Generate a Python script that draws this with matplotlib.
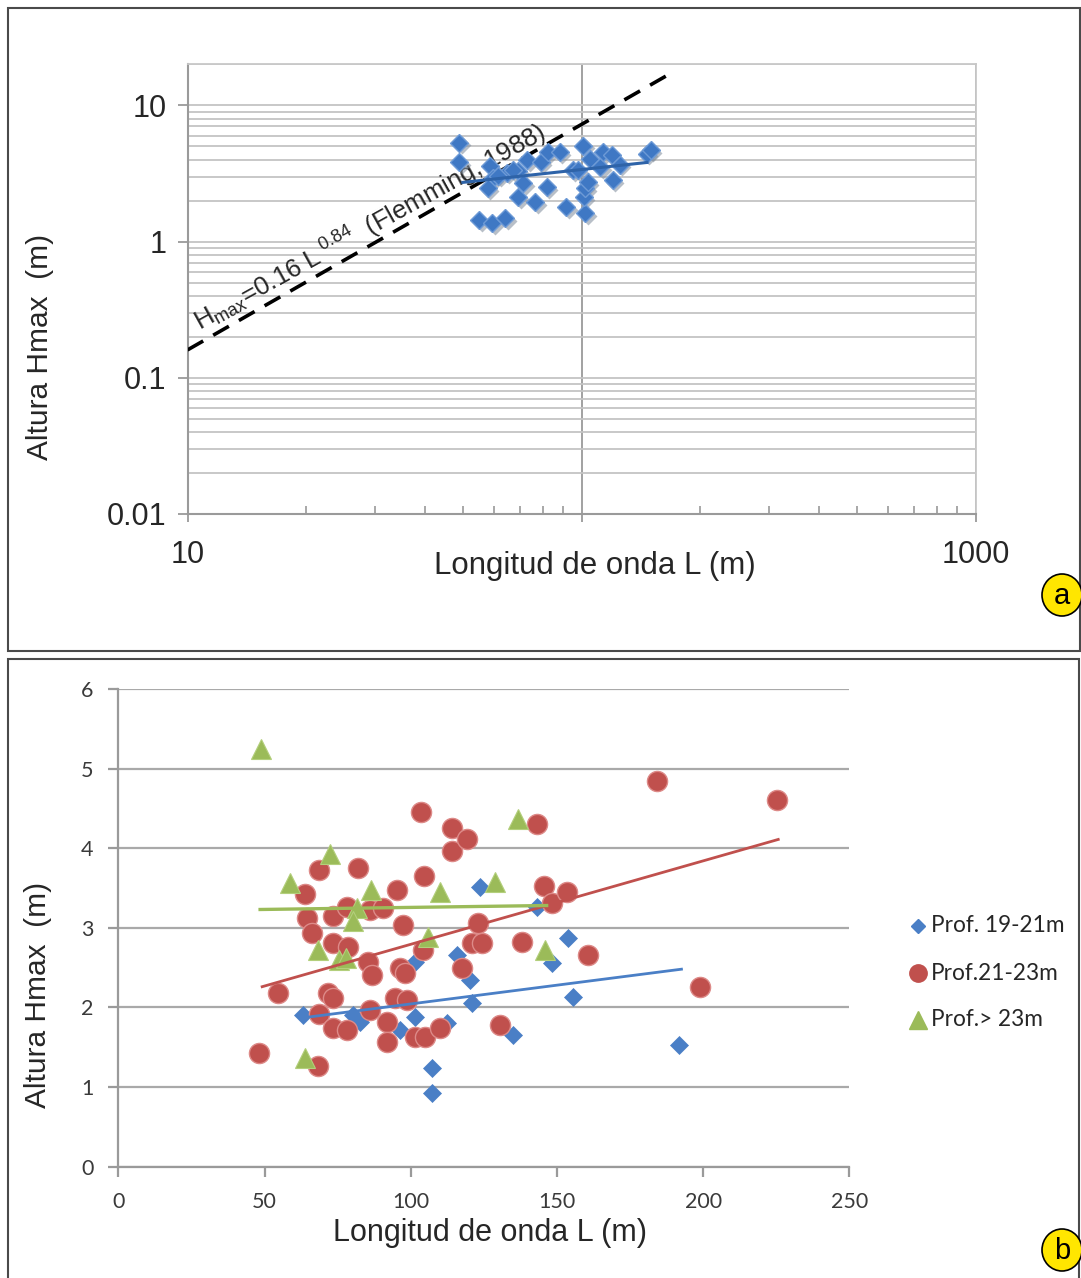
import numpy as np
import matplotlib
matplotlib.use('Agg')
import matplotlib.pyplot as plt
from matplotlib.patches import Rectangle, Ellipse
from matplotlib.lines import Line2D
from matplotlib import transforms
from matplotlib.ticker import FixedLocator, NullFormatter, FixedFormatter

plt.rcParams['font.family'] = ['Liberation Sans', 'DejaVu Sans']
plt.rcParams['mathtext.fontset'] = 'custom'
plt.rcParams['mathtext.rm'] = 'Liberation Sans'
plt.rcParams['mathtext.it'] = 'Liberation Sans'

# ---------------- Panel a data (log-log) ----------------
a_L = [48.9, 48.9, 58.6, 59.6, 57.9, 55.0, 59.3, 64.0, 64.7, 69.0, 69.0, 71.1,
       72.8, 76.3, 78.9, 81.7, 82.2, 88.1, 91.4, 95.1, 100.9, 102.1, 101.4, 102.1,
       103.8, 105.1, 111.5, 113.5, 119.5, 120.2, 125.2, 146.6, 150.0, 97.9, 67.0, 61.4]
a_H = [5.33, 3.81, 3.56, 2.91, 2.46, 1.43, 1.36, 1.48, 3.21, 3.27, 2.11, 2.67,
       3.94, 1.94, 3.81, 2.50, 4.51, 4.51, 1.78, 3.33, 5.07, 1.61, 2.11, 2.46,
       2.72, 4.07, 3.50, 4.51, 4.29, 2.81, 3.68, 4.43, 4.67, 3.33, 3.33, 3.05]
a_trend_L = [50.0, 146.6]
a_trend_H = [2.72, 3.81]
flemming_L = [10, 172]
flemming_H = [0.16, 17.8]
a_yticks = [0.01, 0.1, 1, 10]
a_yticklabels = ['0.01', '0.1', '1', '10']
a_xticks = [10, 100, 1000]
a_xticklabels = ['10', '', '1000']

# ---------------- Panel b data ----------------
b1_L = [63.2, 80.3, 82.7, 96.3, 101.4, 101.4, 107.2, 107.2, 112.4, 115.8, 120.2,
        120.9, 123.6, 134.9, 143.1, 148.2, 153.7, 155.4, 191.9]
b1_H = [1.90, 1.90, 1.82, 1.72, 1.88, 2.57, 1.24, 0.93, 1.80, 2.66, 2.34,
        2.06, 3.51, 1.65, 3.26, 2.56, 2.87, 2.13, 1.53]
b1_trend_L = [63.2, 192.6]
b1_trend_H = [1.87, 2.48]

b2_L = [48.2, 54.6, 63.9, 64.5, 66.3, 68.3, 68.6, 68.6, 71.7, 73.4, 73.4, 73.4,
        73.4, 78.2, 78.2, 78.6, 82.0, 85.4, 86.7, 86.1, 86.1, 90.5, 91.9, 91.9,
        95.3, 96.3, 98.0, 94.6, 98.7, 97.3, 101.4, 104.9, 110.0, 103.5, 104.5, 104.2,
        114.1, 114.1, 119.2, 117.5, 120.9, 124.3, 123.0, 130.5, 138.0, 143.1, 145.5,
        148.2, 153.3, 160.5, 184.1, 198.8, 225.4]
b2_H = [1.43, 2.18, 3.43, 3.12, 2.93, 1.27, 1.92, 3.73, 2.18, 2.12, 3.15, 2.81,
        1.74, 1.72, 3.26, 2.76, 3.75, 2.57, 2.41, 3.22, 1.97, 3.25, 1.82, 1.57,
        3.47, 2.49, 2.43, 2.12, 2.09, 3.03, 1.63, 1.63, 1.74, 4.45, 3.65, 2.72,
        4.26, 3.97, 4.12, 2.49, 2.81, 2.81, 3.06, 1.78, 2.82, 4.31, 3.53,
        3.31, 3.45, 2.66, 4.85, 2.26, 4.60]
b2_trend_L = [49.2, 225.7]
b2_trend_H = [2.26, 4.11]

b3_L = [48.8, 58.7, 72.4, 86.4, 81.6, 80.3, 68.3, 75.5, 77.8, 63.9, 110.0, 105.9,
        128.8, 136.6, 145.8]
b3_H = [5.25, 3.56, 3.93, 3.47, 3.25, 3.08, 2.72, 2.60, 2.62, 1.37, 3.45, 2.88,
        3.57, 4.37, 2.72]
b3_trend_L = [48.5, 146.5]
b3_trend_H = [3.23, 3.28]

b_labels = ['Prof. 19-21m', 'Prof.21-23m', 'Prof.> 23m']
b_xticks = [0, 50, 100, 150, 200, 250]
b_yticks = [0, 1, 2, 3, 4, 5, 6]

# ---------------- Figure ----------------
W, H = 1081, 1278
fig = plt.figure(figsize=(W / 100, H / 100), dpi=100)

def fx(px):
    return px / W

def fy(py):
    return 1 - py / H

BLUE_A = '#3f78c4'
RED = '#c0504d'
GREEN = '#9bbb59'
GRID = '#c4c4c4'
TXT = '#262626'

# ---- panel frames ----
fig.add_artist(Rectangle((fx(8), fy(651)), fx(1080) - fx(8), fy(8) - fy(651),
                         transform=fig.transFigure, fill=False, ec='#4a4a4a', lw=1.5))
fig.add_artist(Rectangle((fx(8), fy(1290)), fx(1079) - fx(8), fy(659) - fy(1290),
                         transform=fig.transFigure, fill=False, ec='#4a4a4a', lw=1.5))

# ---------------- Panel a ----------------
ax1 = fig.add_axes([fx(187.5), fy(513.9), fx(975.5) - fx(187.5), fy(64.4) - fy(513.9)])
ax1.set_xscale('log')
ax1.set_yscale('log')
ax1.set_xlim(10, 1000)
ax1.set_ylim(0.01, 20)

ax1.yaxis.set_major_locator(FixedLocator(a_yticks))
ax1.yaxis.set_major_formatter(FixedFormatter(a_yticklabels))
ymin_ticks = [m * 10.0 ** e for e in range(-2, 2) for m in range(2, 10) if m * 10.0 ** e <= 20]
ax1.yaxis.set_minor_locator(FixedLocator(ymin_ticks))
ax1.yaxis.set_minor_formatter(NullFormatter())
ax1.xaxis.set_major_locator(FixedLocator(a_xticks))
ax1.xaxis.set_major_formatter(FixedFormatter(a_xticklabels))
xmin_ticks = [m * 10.0 ** e for e in range(1, 3) for m in range(2, 10)]
ax1.xaxis.set_minor_locator(FixedLocator(xmin_ticks))
ax1.xaxis.set_minor_formatter(NullFormatter())

ax1.grid(True, axis='y', which='both', color=GRID, lw=1.3, zorder=0)
ax1.grid(True, axis='x', which='major', color='#9a9a9a', lw=1.3, zorder=0)
ax1.set_axisbelow(True)
for s in ['top', 'right']:
    ax1.spines[s].set_color('#c8c8c8')
    ax1.spines[s].set_linewidth(1.3)
for s in ['left', 'bottom']:
    ax1.spines[s].set_color('#9a9a9a')
    ax1.spines[s].set_linewidth(1.5)
ax1.tick_params(axis='y', which='major', direction='out', length=7, width=1.3,
                color='#9a9a9a', labelsize=22, labelcolor=TXT, pad=8)
ax1.tick_params(axis='y', which='minor', length=0)
ax1.tick_params(axis='x', which='major', direction='out', length=6, width=1.3,
                color='#9a9a9a', labelsize=22, labelcolor=TXT, pad=13)
ax1.tick_params(axis='x', which='minor', direction='in', length=6, width=1.2,
                color='#9a9a9a')

# Flemming line
ax1.plot(flemming_L, flemming_H, color='black', lw=2.6, dashes=(5, 3.2), zorder=3,
         solid_capstyle='butt', dash_capstyle='butt')
ax1.text(29.0, 1.26, r'H$_{\mathrm{max}}$=0.16 L$^{\ 0.84}$  (Flemming, 1988)',
         rotation=29, rotation_mode='anchor', ha='center', va='center',
         fontsize=18.5, color=TXT, zorder=4)

# diamonds with shadow
shadow = transforms.offset_copy(ax1.transData, fig=fig, x=2.5, y=-2.5, units='dots')
ax1.plot(a_L, a_H, ls='none', marker='D', ms=8.8, mfc='#7f8c9c', mec='none',
         alpha=0.55, transform=shadow, zorder=4)
ax1.plot(a_L, a_H, ls='none', marker='D', ms=8.8, mfc=BLUE_A, mec='#6d9ad6',
         mew=1.0, zorder=5)
ax1.plot(a_trend_L, a_trend_H, color='#2e63a8', lw=2.2, zorder=6)

fig.text(fx(595), fy(566), 'Longitud de onda L (m)', ha='center', va='center',
         fontsize=22.5, color=TXT)
fig.text(fx(40), fy(347), 'Altura Hmax  (m)', ha='center', va='center',
         rotation=90, fontsize=21.5, color=TXT)

# ---------------- Panel b ----------------
ax2 = fig.add_axes([fx(118.3), fy(1166.6), fx(849.3) - fx(118.3), fy(689) - fy(1166.6)])
ax2.set_xlim(0, 250)
ax2.set_ylim(0, 6)
ax2.set_xticks(b_xticks)
ax2.set_yticks(b_yticks)
ax2.grid(True, axis='y', color='#a9a9a9', lw=1.6, zorder=0)
ax2.set_axisbelow(True)
for s in ['top', 'right']:
    ax2.spines[s].set_visible(False)
for s in ['left', 'bottom']:
    ax2.spines[s].set_color('#9a9a9a')
    ax2.spines[s].set_linewidth(1.6)
ax2.tick_params(axis='both', direction='out', length=7, width=1.6, color='#9a9a9a',
                labelsize=15.5, labelcolor='#3a3a3a')
ax2.tick_params(axis='x', pad=11)
ax2.tick_params(axis='y', pad=11)
for lab in ax2.get_xticklabels() + ax2.get_yticklabels():
    lab.set_fontfamily(['Lato', 'DejaVu Sans'])

ax2.plot(b1_L, b1_H, ls='none', marker='D', ms=9.0, mfc='#4a7fc6', mec='#4a7fc6',
         mew=0.5, zorder=3)
ax2.plot(b2_L, b2_H, ls='none', marker='o', ms=14.5, mfc=RED, mec='#dd8a88',
         mew=1.0, zorder=4)
ax2.plot(b3_L, b3_H, ls='none', marker='^', ms=14.5, mfc=GREEN, mec='#b3cf7c',
         mew=0.8, zorder=5)
ax2.plot(b1_trend_L, b1_trend_H, color='#4a7fc6', lw=2.0, zorder=6)
ax2.plot(b2_trend_L, b2_trend_H, color=RED, lw=2.0, zorder=6)
ax2.plot(b3_trend_L, b3_trend_H, color=GREEN, lw=2.4, zorder=6)

fig.text(fx(490), fy(1233), 'Longitud de onda L (m)', ha='center', va='center',
         fontsize=22, color=TXT)
fig.text(fx(38), fy(995), 'Altura Hmax  (m)', ha='center', va='center',
         rotation=90, fontsize=21.5, color=TXT)

# legend (manual entries)
leg_y = [926, 973, 1020]
leg_m = [('D', 7.4, '#4a7fc6'), ('o', 12.5, RED), ('^', 13, GREEN)]
for (mk, ms, col), ly, lab in zip(leg_m, leg_y, b_labels):
    fig.add_artist(Line2D([fx(918)], [fy(ly)], transform=fig.transFigure, ls='none',
                          marker=mk, ms=ms, mfc=col, mec=col))
    fig.text(fx(931), fy(ly), lab, ha='left', va='center', fontsize=16.3,
             color='#262626', family=['Lato', 'DejaVu Sans'])

# panel tags
for (cx, cy, tag) in [(1062, 595, 'a'), (1062, 1250, 'b')]:
    fig.add_artist(Ellipse((fx(cx), fy(cy)), 40 / W, 42 / H, transform=fig.transFigure,
                           fc='#ffe600', ec='black', lw=1.2))
    fig.text(fx(cx), fy(cy + 1), tag, ha='center', va='center', fontsize=21, color='black')

fig.savefig('out.png', dpi=100)
